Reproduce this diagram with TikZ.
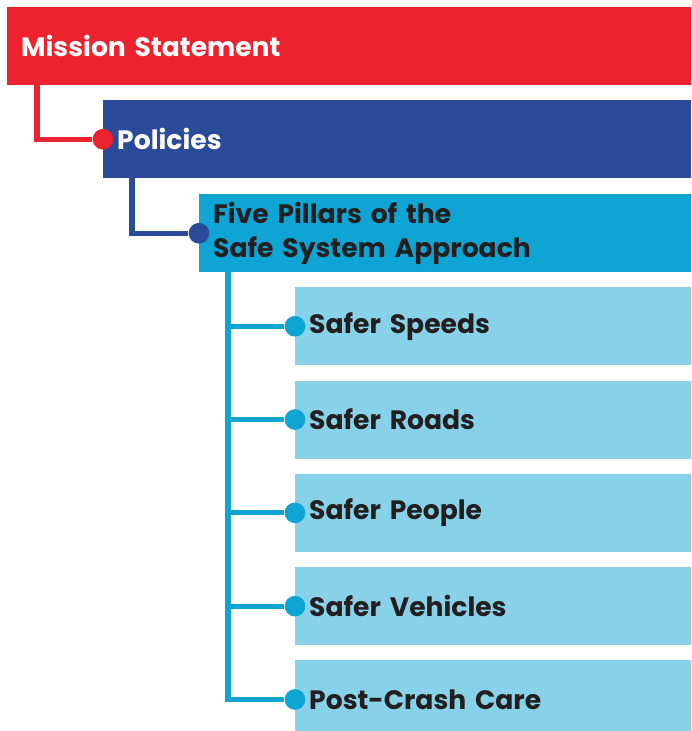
\documentclass[tikz,border=0pt]{standalone}
\usepackage{fontspec}
\setmainfont{Poppins}
\usetikzlibrary{positioning, calc}
\definecolor{MRed}{RGB}{236,35,46}
\definecolor{PBlue}{RGB}{42,74,154}
\definecolor{SCyan}{RGB}{14,165,213}
\definecolor{LCyan}{RGB}{135,209,233}
\definecolor{DText}{RGB}{35,31,32}

\begin{document}
\begin{tikzpicture}[x=0.03cm, y=-0.03cm,
  box/.style={anchor=north west, minimum height=2.34cm, inner xsep=0.42cm,
              inner ysep=0pt, align=left, font=\fontsize{22.7}{28.5}\selectfont\bfseries},
  lvl0/.style={box, fill=MRed, text=white, text width=19.68cm},
  lvl1/.style={box, fill=PBlue, text=white, text width=16.80cm},
  lvl2/.style={box, fill=SCyan, text=DText, text width=13.92cm},
  lvl3/.style={box, fill=LCyan, text=DText, text width=11.04cm},
  link/.style={line width=4.5pt},
  dot/.style={circle, fill=#1, inner sep=0pt, minimum size=0.62cm}
]
\clip (0,0) rectangle (691,731);

% Levels
\node[lvl0] (mission) at (7,7) {Mission Statement};
\node[lvl1] (policies) at (103,100) {Policies};
\node[lvl2] (pillars) at (199,194) {Five Pillars of the\\Safe System Approach};

% Pillar boxes, 93.3 apart
\foreach \j/\lbl in {1/Safer Speeds,2/Safer Roads,3/Safer People,4/Safer Vehicles,5/Post-Crash Care}{
  \node[lvl3] (p\j) at (295,193.7+\j*93.3) {\lbl};
  \node[dot=SCyan] (d\j) at (p\j.west) {};
}

% Red and blue links
\node[dot=MRed] (d0) at (policies.west) {};
\draw[link, MRed] ($(mission.south west)+(30,0)$) |- (d0);
\node[dot=PBlue] (dp) at (pillars.west) {};
\draw[link, PBlue] ($(policies.south west)+(29,0)$) |- (dp);

% Cyan trunk
\coordinate (trunk) at ($(pillars.south west)+(29,0)$);
\draw[link, SCyan] (trunk) |- (d5);
\foreach \j in {1,...,4}
  \draw[link, SCyan] (trunk |- d\j) -- (d\j);
\end{tikzpicture}
\end{document}
